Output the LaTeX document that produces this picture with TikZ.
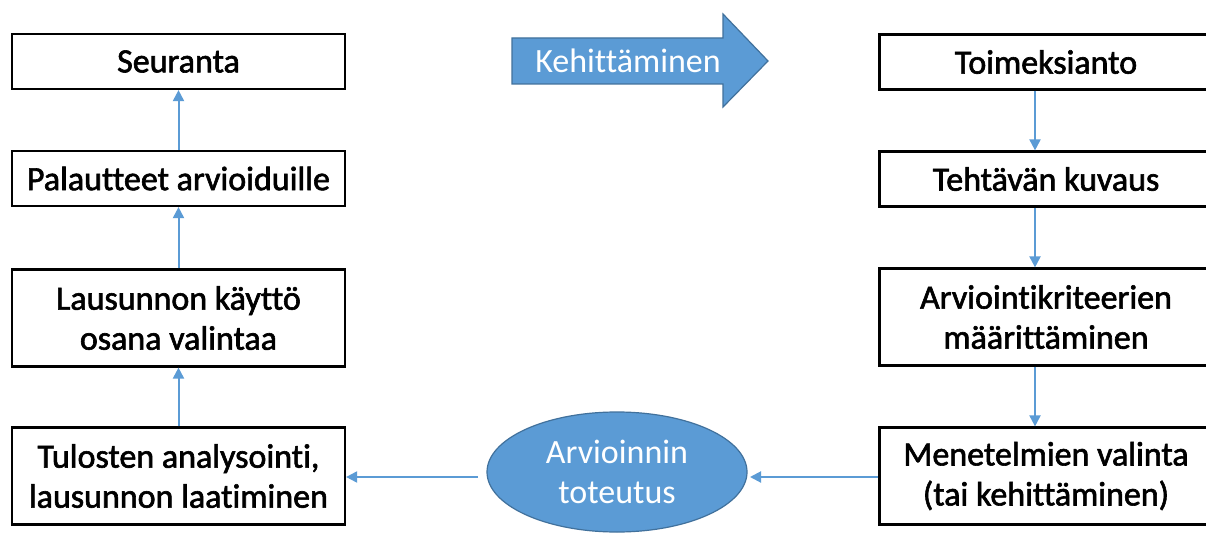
\documentclass[tikz,border=0pt]{standalone}
\usepackage{fontspec}
\setmainfont{Carlito}[Ligatures=NoCommon]
\newfontfamily\boxfont{Carlito}[FakeBold=1.8,Ligatures=NoCommon]
\usetikzlibrary{arrows.meta,shapes.geometric,shapes.arrows}
\definecolor{accblue}{HTML}{5B9BD5}
\definecolor{accedge}{HTML}{41719C}
\begin{document}
\begin{tikzpicture}[x=1pt,y=-1pt,
  stepbox/.style={draw=black,line width=2.2pt,fill=white,minimum width=333pt,inner sep=0pt,align=center,font=\fontsize{34}{40}\boxfont},
  onebox/.style={stepbox,minimum height=55pt},
  twobox/.style={stepbox,minimum height=97pt},
  conn/.style={draw=accblue,line width=2pt,-{Triangle[length=11pt,width=11pt]}}
]
\useasboundingbox (0,0) rectangle (1206,534);
\fill[white] (0,0) rectangle (1206,534);
% left column
\node[onebox] (seur) at (178.5,61.5) {Seuranta};
\node[onebox] (pal) at (178.5,178.5) {Palautteet arvioiduille};
\node[twobox] (laus) at (178.5,318) {Lausunnon käyttö\\osana valintaa};
\node[twobox] (tul) at (178.5,476) {Tulosten analysointi,\\lausunnon laatiminen};
% right column
\node[onebox] (toim) at (1046,62) {Toimeksianto};
\node[onebox] (teht) at (1046,179) {Tehtävän kuvaus};
\node[twobox] (krit) at (1046,317) {Arviointikriteerien\\määrittäminen};
\node[twobox] (men) at (1046,476) {Menetelmien valinta\\(tai kehittäminen)};
% ellipse
\node[ellipse,draw=accedge,line width=1.2pt,fill=accblue,minimum width=260pt,minimum height=120pt,inner sep=0pt,align=center,text=white,font=\fontsize{34}{40}\selectfont] (tot) at (617,472) {Arvioinnin\\toteutus};
% big arrow
\path[draw=accedge,line width=1.2pt,fill=accblue] (512,38) -- (723,38) -- (723,14) -- (768,61) -- (723,107) -- (723,84) -- (512,84) -- cycle;
\node[text=white,font=\fontsize{34}{40}\selectfont,inner sep=0pt] (keh) at (628,61) {Kehittäminen};
% connectors
\draw[conn] (pal.north) -- (seur.south);
\draw[conn] (laus.north) -- (pal.south);
\draw[conn] (tul.north) -- (laus.south);
\draw[conn] ([xshift=-11pt]toim.south) -- ([xshift=-11pt]teht.north);
\draw[conn] ([xshift=-11pt]teht.south) -- ([xshift=-11pt]krit.north);
\draw[conn] ([xshift=-11pt]krit.south) -- ([xshift=-11pt]men.north);
\coordinate (tl) at (478,477);
\coordinate (tr) at (750,477);
\draw[conn] (tl) -- (tul.east |- tl);
\draw[conn] (men.west |- tr) -- (tr);
\end{tikzpicture}
\end{document}
